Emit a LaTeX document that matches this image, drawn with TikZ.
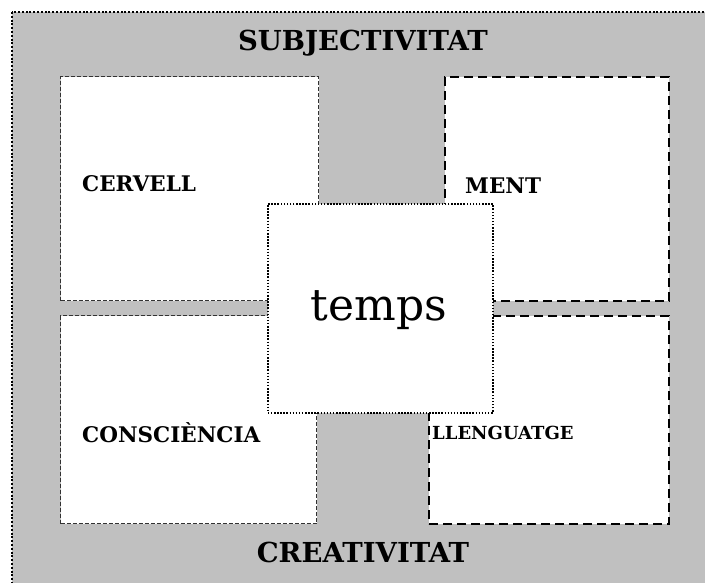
\documentclass[tikz,border=0pt]{standalone}
\usepackage{fontspec}
\setmainfont{DejaVu Serif}
\definecolor{panel}{RGB}{192,192,192}
\definecolor{thinline}{RGB}{50,50,50}
\tikzset{
  frame/.style={draw=black, line width=2pt, dash pattern=on 2pt off 1.8pt, fill=panel},
  lightbox/.style={draw=thinline, line width=1.1pt, dash pattern=on 4pt off 2pt, fill=white,
    rectangle, inner sep=0pt, anchor=north west},
  heavybox/.style={draw=black, line width=2pt, dash pattern=on 9pt off 5pt, fill=white,
    rectangle, inner sep=0pt, anchor=north west},
  centrebox/.style={draw=black, line width=1.6pt, dash pattern=on 1.5pt off 1.6pt, fill=white,
    rectangle, inner sep=0pt, anchor=north west},
  title/.style={font=\fontsize{27.5}{32}\selectfont\bfseries, inner sep=0pt, anchor=base},
  label/.style={font=\fontsize{21.5}{25}\selectfont\bfseries, inner sep=0pt, anchor=base west},
}
\begin{document}
\begin{tikzpicture}[x=1pt,y=-1pt]
  \useasboundingbox (0,0) rectangle (705,583);
  \clip (0,0) rectangle (705,583);
  % grey background panel, running past the right and bottom edges
  \draw[frame] (12,12) rectangle (720,600);
  % four quadrant boxes
  \node[lightbox, minimum width=258pt, minimum height=224pt] (cervell) at (60,76) {};
  \node[heavybox, minimum width=224pt, minimum height=224pt] (ment) at (444,76) {};
  \node[lightbox, minimum width=256pt, minimum height=208pt] (consc) at (60,315) {};
  \node[heavybox, minimum width=240pt, minimum height=208pt] (lleng) at (428,315) {};
  % central box on top
  \node[centrebox, minimum width=225pt, minimum height=209pt] (temps) at (267,203) {};
  \node[font=\fontsize{44}{50}\selectfont, inner sep=0pt, anchor=base] (tempstxt) at (379,320) {temps};
  % titles
  \node[title] (subj) at (363,51) {SUBJECTIVITAT};
  \node[title] (creat) at (363,562) {CREATIVITAT};
  % box labels
  \node[label] (lcervell) at (82,192) {CERVELL};
  \node[label] (lment) at (465,194) {MENT};
  \node[label] (lconsc) at (82,442) {CONSCIÈNCIA};
  \node[label, font=\fontsize{18}{21}\selectfont\bfseries] (llleng) at (432,439) {LLENGUATGE};
\end{tikzpicture}
\end{document}
